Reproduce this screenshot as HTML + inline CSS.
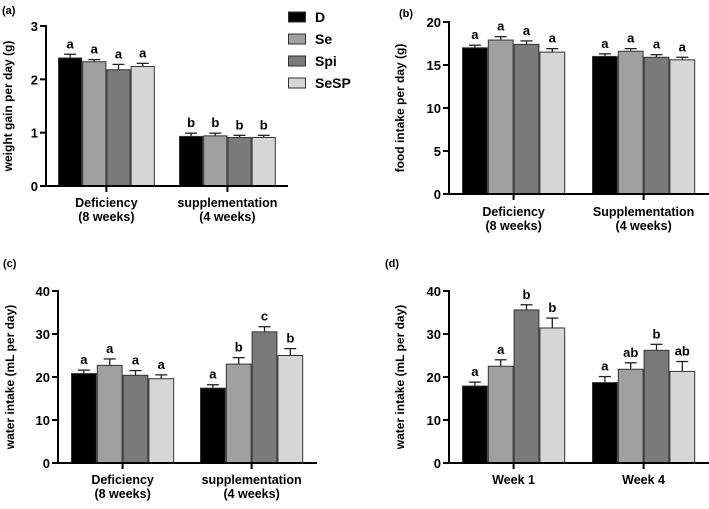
<!DOCTYPE html>
<html><head><meta charset="utf-8"><style>
body{margin:0;background:#fff;width:709px;height:504px;overflow:hidden}
svg{font-family:"Liberation Sans",Arial,sans-serif;font-weight:bold}
</style></head><body>
<svg id="fig" width="709" height="504"></svg>
<script>
// ---- data ----
const seriesNames = ["D","Se","Spi","SeSP"];
const seriesColors = ["#000000","#a0a0a0","#7a7a7a","#d6d6d6"];
const aCategories = ["Deficiency|(8 weeks)","supplementation|(4 weeks)"];
const aTicks = [0,1,2,3];
const aValues = [[2.40,0.93],[2.33,0.94],[2.18,0.91],[2.24,0.91]];
const aErrors = [[0.07,0.06],[0.04,0.05],[0.10,0.04],[0.06,0.04]];
const aLetters = [["a","b"],["a","b"],["a","b"],["a","b"]];
const bCategories = ["Deficiency|(8 weeks)","Supplementation|(4 weeks)"];
const bTicks = [0,5,10,15,20];
const bValues = [[17.0,16.0],[17.9,16.6],[17.4,15.9],[16.5,15.6]];
const bErrors = [[0.3,0.3],[0.4,0.3],[0.4,0.3],[0.4,0.3]];
const bLetters = [["a","a"],["a","a"],["a","a"],["a","a"]];
const cCategories = ["Deficiency|(8 weeks)","supplementation|(4 weeks)"];
const cTicks = [0,10,20,30,40];
const cValues = [[20.8,17.4],[22.7,23.0],[20.4,30.5],[19.6,25.0]];
const cErrors = [[0.8,0.8],[1.5,1.5],[1.1,1.2],[0.9,1.6]];
const cLetters = [["a","a"],["a","b"],["a","c"],["a","b"]];
const dCategories = ["Week 1","Week 4"];
const dTicks = [0,10,20,30,40];
const dValues = [[17.9,18.7],[22.5,21.8],[35.6,26.2],[31.4,21.3]];
const dErrors = [[0.9,1.4],[1.5,1.5],[1.2,1.4],[2.3,2.3]];
const dLetters = [["a","a"],["a","ab"],["b","b"],["b","ab"]];

const NS="http://www.w3.org/2000/svg";
const svg=document.getElementById('fig');
function mk(tag,attrs,parent,text){const e=document.createElementNS(NS,tag);for(const k in attrs)e.setAttribute(k,attrs[k]);if(text!==undefined)e.textContent=text;(parent||svg).appendChild(e);return e;}

function panel(id,cfg,cats,ticks,vals,errs,letters){
  const g=mk('g',{});
  
  
  const {ax,y0,yTop,xEnd,groupStarts,barW,lab,ylab,ylabX,catY}=cfg;
  const ymax=ticks[ticks.length-1];
  const ys=v=>y0-(v/ymax)*(y0-yTop);
  const pl=mk('text',{x:lab[0],y:lab[1],'font-size':11},g,'('+id+')');
  
  
  const yt=mk('text',{x:ylabX,y:(y0+yTop)/2,'font-size':12,'text-anchor':'middle',transform:`rotate(-90 ${ylabX} ${(y0+yTop)/2})`},g,ylab);
  
  
  for(let s=0;s<vals.length;s++){
    for(let c=0;c<cats.length;c++){
      const x=groupStarts[c]+s*barW, v=vals[s][c], e=errs[s][c];
      const top=ys(v), et=ys(v+e), cx=x+barW/2;
      const ln=mk('line',{x1:cx,x2:cx,y1:top,y2:et,stroke:'#222','stroke-width':1.3},g);
      
      
      mk('line',{x1:cx-6,x2:cx+6,y1:et,y2:et,stroke:'#222','stroke-width':1.3},g);
      const r=mk('rect',{x:x+0.5,y:top,width:barW-1,height:y0-top,fill:seriesColors[s],stroke:'#333','stroke-width':1},g);
      
      
      const t=mk('text',{x:cx,y:et-6,'font-size':13,'text-anchor':'middle'},g,letters[s][c]);
      
      
    }
  }
  const ya=mk('line',{x1:ax,x2:ax,y1:yTop-1,y2:y0+1,stroke:'#000','stroke-width':2},g);
  
  
  const xa=mk('line',{x1:ax-6,x2:xEnd,y1:y0,y2:y0,stroke:'#000','stroke-width':2},g);
  
  
  ticks.forEach(tv=>{
    const y=ys(tv);
    mk('line',{x1:ax-6,x2:ax,y1:y,y2:y,stroke:'#000','stroke-width':2},g);
    const tl=mk('text',{x:ax-8,y:y+5,'font-size':13,'text-anchor':'end'},g,tv);
    
    
  });
  cats.forEach((cName,c)=>{
    const cx=groupStarts[c]+barW*vals.length/2;
    mk('line',{x1:cx,x2:cx,y1:y0,y2:y0+6,stroke:'#000','stroke-width':2},g);
    cName.split('|').forEach((ln,i)=>{
      const t=mk('text',{x:cx,y:catY+i*14,'font-size':12.5,'text-anchor':'middle'},g,ln);
      
      
    });
  });
}
panel('a',{ax:46,y0:186,yTop:26,xEnd:288,groupStarts:[58,179],barW:24.2,lab:[2,14],ylab:'weight gain per day (g)',ylabX:12,catY:207},aCategories,aTicks,aValues,aErrors,aLetters);
panel('b',{ax:449,y0:194,yTop:22,xEnd:709,groupStarts:[462,592],barW:25.8,lab:[399,17],ylab:'food intake per day (g)',ylabX:404,catY:216},bCategories,bTicks,bValues,bErrors,bLetters);
panel('c',{ax:58,y0:463,yTop:291,xEnd:317,groupStarts:[71,200],barW:25.8,lab:[3,267],ylab:'water intake (mL per day)',ylabX:14,catY:484},cCategories,cTicks,cValues,cErrors,cLetters);
panel('d',{ax:449,y0:463,yTop:291,xEnd:709,groupStarts:[462,592],barW:25.8,lab:[385,267],ylab:'water intake (mL per day)',ylabX:404,catY:484},dCategories,dTicks,dValues,dErrors,dLetters);
const lg=mk('g',{});


seriesNames.forEach((n,i)=>{
  const y=12+i*22;
  const r=mk('rect',{x:288.5,y:y,width:17,height:10,fill:seriesColors[i],stroke:'#333','stroke-width':1},lg);
  
  
  const t=mk('text',{x:315,y:y+10,'font-size':14},lg,n);
  
  
});
</script>
</body></html>
